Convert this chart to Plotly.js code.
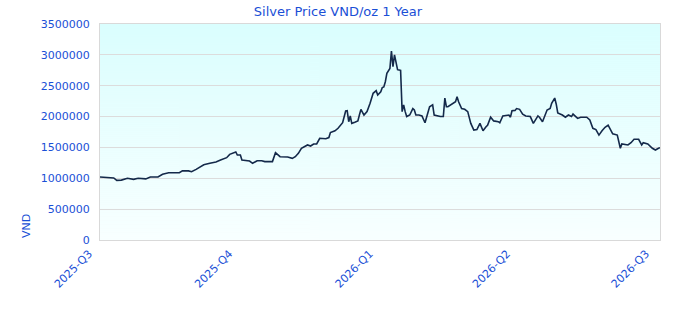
<!DOCTYPE html>
<html>
<head>
<meta charset="utf-8">
<script src="https://cdn.plot.ly/plotly-3.0.1.min.js"></script>
<style>
  html, body { margin: 0; padding: 0; background: #ffffff; }
  #chart { width: 680px; height: 320px; }
</style>
</head>
<body>
<div id="chart"></div>
<script>
// ---- Data ----
const dates = [
  '2025-07-01','2025-07-05','2025-07-10','2025-07-12','2025-07-15','2025-07-19','2025-07-23','2025-07-26','2025-07-29','2025-07-31',
  '2025-08-03','2025-08-08','2025-08-11','2025-08-15','2025-08-22','2025-08-24','2025-08-28','2025-08-30',
  '2025-09-02','2025-09-07','2025-09-11','2025-09-15','2025-09-18','2025-09-22','2025-09-24','2025-09-28','2025-09-29',
  '2025-10-01','2025-10-02','2025-10-05','2025-10-07','2025-10-09','2025-10-12','2025-10-15','2025-10-17','2025-10-22','2025-10-23','2025-10-24','2025-10-27','2025-10-30',
  '2025-11-01','2025-11-04','2025-11-06','2025-11-08','2025-11-10','2025-11-14','2025-11-16','2025-11-18','2025-11-20','2025-11-22','2025-11-26','2025-11-28','2025-11-29',
  '2025-12-02','2025-12-04','2025-12-07','2025-12-09','2025-12-10','2025-12-11','2025-12-12','2025-12-13','2025-12-15','2025-12-17','2025-12-18','2025-12-19','2025-12-21','2025-12-23','2025-12-25','2025-12-27','2025-12-29','2025-12-30',
  '2026-01-01','2026-01-02','2026-01-03','2026-01-04','2026-01-05','2026-01-07','2026-01-08','2026-01-09','2026-01-10','2026-01-11','2026-01-12','2026-01-13','2026-01-14','2026-01-15','2026-01-16','2026-01-17','2026-01-18','2026-01-20','2026-01-22','2026-01-23','2026-01-24','2026-01-26','2026-01-28','2026-01-30','2026-01-31',
  '2026-02-02','2026-02-04','2026-02-05','2026-02-09','2026-02-11','2026-02-12','2026-02-13','2026-02-14','2026-02-17','2026-02-19','2026-02-20','2026-02-21','2026-02-23','2026-02-25','2026-02-27',
  '2026-03-01','2026-03-03','2026-03-05','2026-03-07','2026-03-09','2026-03-11','2026-03-12','2026-03-14','2026-03-16','2026-03-19','2026-03-20','2026-03-22','2026-03-26','2026-03-27','2026-03-28','2026-03-30','2026-03-31',
  '2026-04-02','2026-04-04','2026-04-06','2026-04-09','2026-04-11','2026-04-14','2026-04-15','2026-04-17','2026-04-20','2026-04-22','2026-04-23','2026-04-25','2026-04-26','2026-04-27','2026-04-30',
  '2026-05-02','2026-05-04','2026-05-06','2026-05-07','2026-05-10','2026-05-12','2026-05-16','2026-05-18','2026-05-20','2026-05-22','2026-05-24','2026-05-26','2026-05-28','2026-05-30',
  '2026-06-02','2026-06-05','2026-06-07','2026-06-08','2026-06-12','2026-06-14','2026-06-16','2026-06-19','2026-06-21','2026-06-22','2026-06-25','2026-06-28','2026-06-30',
  '2026-07-02','2026-07-03'
];
const prices = [
  1021000,1015000,1005000,967000,970000,1000000,983000,1000000,1000000,990000,
  1020000,1020000,1065000,1090000,1090000,1120000,1120000,1107000,
  1145000,1220000,1243000,1264000,1296000,1334000,1388000,1426000,1377000,
  1377000,1296000,1280000,1280000,1243000,1285000,1285000,1270000,1270000,1334000,1415000,1350000,1345000,
  1345000,1323000,1350000,1404000,1485000,1540000,1523000,1556000,1556000,1648000,1640000,1660000,1740000,
  1770000,1810000,1900000,2090000,2095000,1917000,2010000,1890000,1907000,1928000,2025000,2117000,2025000,2080000,2215000,2377000,2420000,2350000,
  2400000,2470000,2480000,2565000,2700000,2780000,3060000,2810000,3000000,2900000,2760000,2755000,2750000,2080000,2190000,2080000,2000000,2025000,2130000,2107000,2025000,2025000,2010000,1900000,1990000,
  2160000,2190000,2025000,2000000,2000000,2300000,2160000,2160000,2215000,2240000,2320000,2240000,2130000,2117000,2080000,
  1890000,1780000,1790000,1890000,1770000,1835000,1860000,1990000,1930000,1917000,1900000,2010000,2025000,1990000,2095000,2100000,2130000,
  2117000,2040000,2010000,2000000,1890000,2010000,1990000,1917000,2107000,2130000,2215000,2300000,2200000,2060000,2025000,
  1990000,2025000,2000000,2040000,1970000,1990000,1990000,1945000,1810000,1790000,1700000,1770000,1826000,1860000,
  1720000,1700000,1486000,1556000,1540000,1577000,1632000,1632000,1540000,1577000,1556000,1486000,1458000,
  1486000,1495000
];
const tickDates = ['2025-07-01','2025-10-01','2026-01-01','2026-04-01','2026-07-01'];
const tickLabels = ['2025-Q3','2025-Q4','2026-Q1','2026-Q2','2026-Q3'];

// ---- Gradient background image (generated locally) ----
function gradientImage() {
  const c = document.createElement('canvas');
  c.width = 4; c.height = 216;
  const g = c.getContext('2d');
  const grad = g.createLinearGradient(0, 0, 0, 216);
  grad.addColorStop(0, 'rgb(218,254,254)');
  grad.addColorStop(1, 'rgb(248,255,255)');
  g.fillStyle = grad;
  g.fillRect(0, 0, 4, 216);
  return c.toDataURL('image/png');
}

const blue = '#1a4fd6';
const font = { family: 'DejaVu Sans, Verdana, sans-serif', size: 11, color: blue };

const trace = {
  type: 'scatter',
  mode: 'lines',
  x: dates,
  y: prices,
  line: { color: '#14294a', width: 1.6 },
  hoverinfo: 'x+y'
};

const layout = {
  width: 680,
  height: 320,
  margin: { l: 100, r: 20, t: 24, b: 80 },
  paper_bgcolor: '#ffffff',
  plot_bgcolor: 'rgba(0,0,0,0)',
  font: font,
  showlegend: false,
  title: {
    text: 'Silver Price VND/oz 1 Year',
    font: { family: font.family, size: 13, color: blue },
    x: 0.497, xanchor: 'center', xref: 'container',
    y: 0.963, yanchor: 'middle', yref: 'container'
  },
  xaxis: {
    type: 'date',
    range: [dates[0], dates[dates.length - 1]],
    tickmode: 'array',
    tickvals: tickDates,
    ticktext: tickLabels,
    tickangle: -45,
    tickfont: font,
    ticklabelshift: -11,
    showgrid: false,
    zeroline: false,
    showline: true,
    mirror: true,
    linecolor: '#d9d9d9',
    linewidth: 1,
    ticks: 'outside',
    ticklen: 2,
    tickcolor: 'rgba(0,0,0,0)'
  },
  yaxis: {
    range: [0, 3500000],
    dtick: 500000,
    tick0: 0,
    tickformat: 'd',
    tickfont: font,
    showgrid: true,
    gridcolor: '#dcdcdc',
    gridwidth: 1,
    zeroline: false,
    showline: true,
    mirror: true,
    linecolor: '#d9d9d9',
    linewidth: 1,
    ticks: 'outside',
    ticklen: 7,
    tickcolor: 'rgba(0,0,0,0)'
  },
  images: [{
    source: gradientImage(),
    xref: 'paper', yref: 'paper',
    x: 0, y: 1, sizex: 1, sizey: 1,
    xanchor: 'left', yanchor: 'top',
    sizing: 'stretch',
    layer: 'below'
  }],
  annotations: [{
    text: 'VND',
    textangle: -90,
    xref: 'paper', yref: 'paper',
    x: -0.132, y: 0,
    xanchor: 'center', yanchor: 'bottom',
    showarrow: false,
    font: { family: font.family, size: 11, color: blue }
  }]
};

Plotly.newPlot('chart', [trace], layout, { displayModeBar: false, staticPlot: true });
</script>
</body>
</html>
